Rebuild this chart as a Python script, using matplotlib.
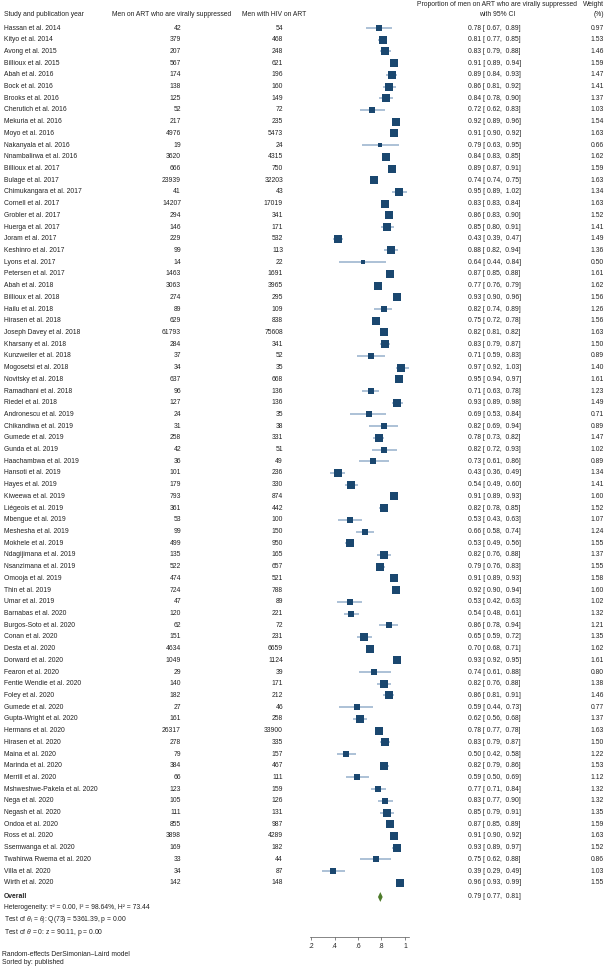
import numpy as np
import matplotlib
matplotlib.use("Agg")
import matplotlib.pyplot as plt

plt.rcParams['font.family'] = ['Liberation Sans', 'DejaVu Sans']
plt.rcParams['mathtext.fontset'] = 'custom'
plt.rcParams['mathtext.rm'] = 'Liberation Sans'
plt.rcParams['mathtext.it'] = 'Liberation Sans:italic'

# data
studies = [
    "Hassan et al. 2014", "Kityo et al. 2014", "Avong et al. 2015", "Billioux et al. 2015",
    "Abah et al. 2016", "Bock et al. 2016", "Brooks et al. 2016", "Cherutich et al. 2016",
    "Mekuria et al. 2016", "Moyo et al. 2016", "Nakanyala et al. 2016", "Nnambalirwa et al. 2016",
    "Billioux et al. 2017", "Bulage et al. 2017", "Chimukangara et al. 2017", "Cornell et al. 2017",
    "Grobler et al. 2017", "Huerga et al. 2017", "Joram et al. 2017", "Keshinro et al. 2017",
    "Lyons et al. 2017", "Petersen et al. 2017", "Abah et al. 2018", "Billioux et al. 2018",
    "Hailu et al. 2018", "Hirasen et al. 2018", "Joseph Davey et al. 2018", "Kharsany et al. 2018",
    "Kunzweiler et al. 2018", "Mogosetsi et al. 2018", "Novitsky et al. 2018", "Ramadhani et al. 2018",
    "Riedel et al. 2018", "Andronescu et al. 2019", "Chikandiwa et al. 2019", "Gumede et al. 2019",
    "Gunda et al. 2019", "Haachambwa et al. 2019", "Hansoti et al. 2019", "Hayes et al. 2019",
    "Kiweewa et al. 2019", "Liégeois et al. 2019", "Mbengue et al. 2019", "Meshesha et al. 2019",
    "Mokhele et al. 2019", "Ndagijimana et al. 2019", "Nsanzimana et al. 2019", "Omooja et al. 2019",
    "Thin et al. 2019", "Umar et al. 2019", "Barnabas et al. 2020", "Burgos-Soto et al. 2020",
    "Conan et al. 2020", "Desta et al. 2020", "Dorward et al. 2020", "Fearon et al. 2020",
    "Fentie Wendie et al. 2020", "Foley et al. 2020", "Gumede et al. 2020", "Gupta-Wright et al. 2020",
    "Hermans et al. 2020", "Hirasen et al. 2020", "Maina et al. 2020", "Marinda et al. 2020",
    "Merrill et al. 2020", "Mshweshwe-Pakela et al. 2020", "Nega et al. 2020", "Negash et al. 2020",
    "Ondoa et al. 2020", "Ross et al. 2020", "Ssemwanga et al. 2020", "Twahirwa Rwema et al. 2020",
    "Villa et al. 2020", "Wirth et al. 2020",
]
suppressed = [42, 379, 207, 567, 174, 138, 125, 52, 217, 4976, 19, 3620, 666, 23939, 41, 14207,
              294, 146, 229, 99, 14, 1463, 3063, 274, 89, 629, 61793, 284, 37, 34, 637, 96,
              127, 24, 31, 258, 42, 36, 101, 179, 793, 361, 53, 99, 499, 135, 522, 474,
              724, 47, 120, 62, 151, 4634, 1049, 29, 140, 182, 27, 161, 26317, 278, 79, 384,
              66, 123, 105, 111, 855, 3898, 169, 33, 34, 142]
on_art = [54, 468, 248, 621, 196, 160, 149, 72, 235, 5473, 24, 4315, 750, 32203, 43, 17019,
          341, 171, 532, 113, 22, 1691, 3965, 295, 109, 838, 75608, 341, 52, 35, 668, 136,
          136, 35, 38, 331, 51, 49, 236, 330, 874, 442, 100, 150, 950, 165, 657, 521,
          788, 89, 221, 72, 231, 6659, 1124, 39, 171, 212, 46, 258, 33900, 335, 157, 467,
          111, 159, 126, 131, 987, 4289, 182, 44, 87, 148]
prop = [0.78, 0.81, 0.83, 0.91, 0.89, 0.86, 0.84, 0.72, 0.92, 0.91, 0.79, 0.84, 0.89, 0.74, 0.95, 0.83,
        0.86, 0.85, 0.43, 0.88, 0.64, 0.87, 0.77, 0.93, 0.82, 0.75, 0.82, 0.83, 0.71, 0.97, 0.95, 0.71,
        0.93, 0.69, 0.82, 0.78, 0.82, 0.73, 0.43, 0.54, 0.91, 0.82, 0.53, 0.66, 0.53, 0.82, 0.79, 0.91,
        0.92, 0.53, 0.54, 0.86, 0.65, 0.70, 0.93, 0.74, 0.82, 0.86, 0.59, 0.62, 0.78, 0.83, 0.50, 0.82,
        0.59, 0.77, 0.83, 0.85, 0.87, 0.91, 0.93, 0.75, 0.39, 0.96]
ci_low = [0.67, 0.77, 0.79, 0.89, 0.84, 0.81, 0.78, 0.62, 0.89, 0.90, 0.63, 0.83, 0.87, 0.74, 0.89, 0.83,
          0.83, 0.80, 0.39, 0.82, 0.44, 0.85, 0.76, 0.90, 0.74, 0.72, 0.81, 0.79, 0.59, 0.92, 0.94, 0.63,
          0.89, 0.53, 0.69, 0.73, 0.72, 0.61, 0.36, 0.49, 0.89, 0.78, 0.43, 0.58, 0.49, 0.76, 0.76, 0.89,
          0.90, 0.42, 0.48, 0.78, 0.59, 0.68, 0.92, 0.61, 0.76, 0.81, 0.44, 0.56, 0.77, 0.79, 0.42, 0.79,
          0.50, 0.71, 0.77, 0.79, 0.85, 0.90, 0.89, 0.62, 0.29, 0.93]
ci_high = [0.89, 0.85, 0.88, 0.94, 0.93, 0.92, 0.90, 0.83, 0.96, 0.92, 0.95, 0.85, 0.91, 0.75, 1.02, 0.84,
           0.90, 0.91, 0.47, 0.94, 0.84, 0.88, 0.79, 0.96, 0.89, 0.78, 0.82, 0.87, 0.83, 1.03, 0.97, 0.78,
           0.98, 0.84, 0.94, 0.82, 0.93, 0.86, 0.49, 0.60, 0.93, 0.85, 0.63, 0.74, 0.56, 0.88, 0.83, 0.93,
           0.94, 0.63, 0.61, 0.94, 0.72, 0.71, 0.95, 0.88, 0.88, 0.91, 0.73, 0.68, 0.78, 0.87, 0.58, 0.86,
           0.69, 0.84, 0.90, 0.91, 0.89, 0.92, 0.97, 0.88, 0.49, 0.99]
weight = [0.97, 1.53, 1.46, 1.59, 1.47, 1.41, 1.37, 1.03, 1.54, 1.63, 0.66, 1.62, 1.59, 1.63, 1.34, 1.63,
          1.52, 1.41, 1.49, 1.36, 0.50, 1.61, 1.62, 1.56, 1.26, 1.56, 1.63, 1.50, 0.89, 1.40, 1.61, 1.23,
          1.49, 0.71, 0.89, 1.47, 1.02, 0.89, 1.34, 1.41, 1.60, 1.52, 1.07, 1.24, 1.55, 1.37, 1.55, 1.58,
          1.60, 1.02, 1.32, 1.21, 1.35, 1.62, 1.61, 0.80, 1.38, 1.46, 0.77, 1.37, 1.63, 1.50, 1.22, 1.53,
          1.12, 1.32, 1.32, 1.35, 1.59, 1.63, 1.52, 0.86, 1.03, 1.55]
overall = [0.79, 0.77, 0.81]  # estimate, low, high
xticks = [0.2, 0.4, 0.6, 0.8, 1.0]
xtick_labels = [".2", ".4", ".6", ".8", "1"]

W, H = 612, 968
ROW0, STEP = 28, 11.71          # pixel y of first row, row spacing
FS = 4.9
TXT = "#222222"
BOX = "#1a476f"
CI = "#a6bcd3"
DIA = "#4e7b2b"


def py(px):
    # figure pixel y -> row coordinate
    return (px - ROW0) / STEP


fig = plt.figure(figsize=(W / 100, H / 100), dpi=100)

# text layer, x in pixels, y in row units
ax = fig.add_axes([0, 0, 1, 1])
ax.set_xlim(0, W)
ax.set_ylim(py(H), py(0))
ax.axis("off")

rows = np.arange(len(studies))
n = len(studies)

# headers
ax.text(4, py(14), "Study and publication year", fontsize=FS, color=TXT, va="center", ha="left")
ax.text(172, py(14), "Men on ART who are virally suppressed", fontsize=FS, color=TXT, va="center", ha="center")
ax.text(274, py(14), "Men with HIV on ART", fontsize=FS, color=TXT, va="center", ha="center")
ax.text(497, py(5), "Proportion of men on ART who are virally suppressed", fontsize=FS, color=TXT, va="center", ha="center")
ax.text(497, py(15), "with 95% CI", fontsize=FS, color=TXT, va="center", ha="center")
ax.text(604, py(5), "Weight", fontsize=FS, color=TXT, va="center", ha="right")
ax.text(604, py(15), "(%)", fontsize=FS, color=TXT, va="center", ha="right")

for i in rows:
    ax.text(4, i, studies[i], fontsize=FS, color=TXT, va="center", ha="left")
    ax.text(181, i, str(suppressed[i]), fontsize=FS, color=TXT, va="center", ha="right")
    ax.text(283, i, str(on_art[i]), fontsize=FS, color=TXT, va="center", ha="right")
    ax.text(468, i, "%.2f [ %.2f,  %.2f]" % (prop[i], ci_low[i], ci_high[i]),
            fontsize=FS, color=TXT, va="center", ha="left")
    ax.text(604, i, "%.2f" % weight[i], fontsize=FS, color=TXT, va="center", ha="right")

y_overall = py(897)
ax.text(4, y_overall, "Overall", fontsize=FS, color=TXT, va="center", ha="left", fontweight="bold")
ax.text(468, y_overall, "%.2f [ %.2f,  %.2f]" % (overall[0], overall[1], overall[2]),
        fontsize=FS, color=TXT, va="center", ha="left")
ax.text(4, py(908), "Heterogeneity: τ² = 0.00, I² = 98.64%, H² = 73.44",
        fontsize=FS, color=TXT, va="center", ha="left")
ax.text(4, py(920), r"Test of $\theta_i$ = $\theta_j$: Q(73) = 5361.39, p = 0.00",
        fontsize=FS, color=TXT, va="center", ha="left")
ax.text(4, py(932), r"Test of $\theta$ = 0: z = 90.11, p = 0.00",
        fontsize=FS, color=TXT, va="center", ha="left")
ax.text(2, py(955), "Random-effects DerSimonian\u2013Laird model", fontsize=FS, color=TXT, va="center", ha="left")
ax.text(2, py(963), "Sorted by: published", fontsize=FS, color=TXT, va="center", ha="left")

# forest panel: x in proportion units
x_left, x_right = 0.15, 1.05
px_per_unit = 117.5
left_px = 311 - (0.2 - x_left) * px_per_unit
width_px = (x_right - x_left) * px_per_unit
top_px, bot_px = 20, 937
fax = fig.add_axes([left_px / W, 1 - bot_px / H, width_px / W, (bot_px - top_px) / H])
fax.set_xlim(x_left, x_right)
fax.set_ylim(py(bot_px), py(top_px))
fax.patch.set_visible(False)
for s in ["top", "right", "left"]:
    fax.spines[s].set_visible(False)
fax.spines["bottom"].set_bounds(0.19, 1.03)
fax.spines["bottom"].set_linewidth(0.5)
fax.spines["bottom"].set_color("#555555")
fax.set_yticks([])
fax.set_xticks(xticks)
fax.set_xticklabels(xtick_labels)
fax.tick_params(axis="x", length=2, width=0.5, color="#555555", labelsize=FS, labelcolor=TXT, pad=2)

fax.hlines(rows, ci_low, ci_high, color=CI, linewidth=1.3, zorder=1)
sizes = 5.6 * np.sqrt(np.array(weight) / max(weight))
for i in rows:
    fax.plot(prop[i], i, marker="s", markersize=sizes[i], color=BOX,
             markeredgewidth=0, zorder=2)

est, lo, hi = overall
dh = 0.42
fax.fill([lo, est, hi, est], [y_overall, y_overall - dh, y_overall, y_overall + dh],
         color=DIA, linewidth=0, zorder=3)

fig.savefig("out.png", dpi=100)
